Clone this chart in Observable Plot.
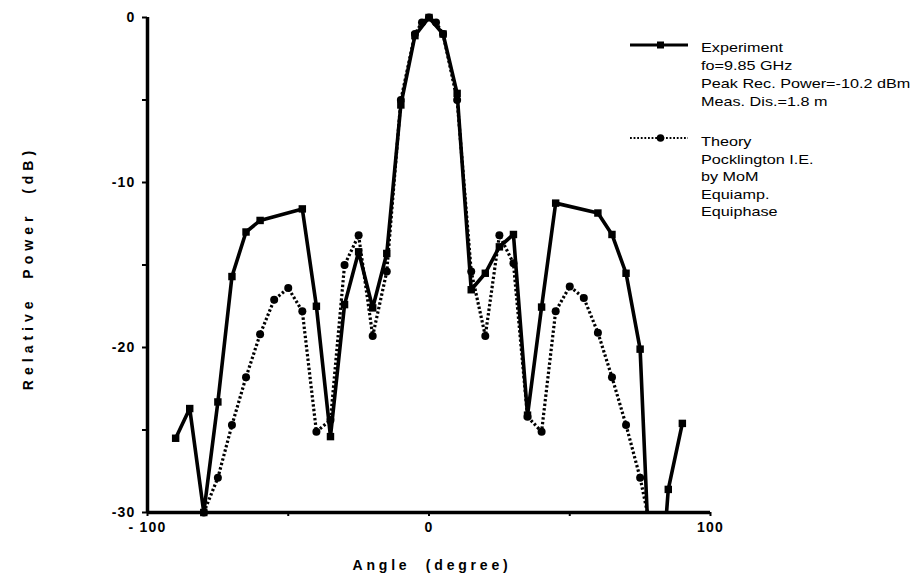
<!DOCTYPE html>
<html>
<head>
<meta charset="utf-8">
<script src="https://cdn.jsdelivr.net/npm/d3@7"></script>
<script src="https://cdn.jsdelivr.net/npm/@observablehq/plot@0.6"></script>
<style>
  html, body { margin: 0; padding: 0; background: white; }
  #chart { width: 912px; height: 574px; }
</style>
</head>
<body>
<div id="chart"></div>
<script>
// ---- data ----
const expAngle = [-90,-85,-80,-75,-70,-65,-60,-45,-40,-35,-30,-25,-20,-15,-10,-5,0,5,10,15,20,25,30,35,40,45,60,65,70,75,80,85,90];
const expPower = [-25.5,-23.7,-30,-23.3,-15.7,-13.0,-12.3,-11.6,-17.5,-25.4,-17.4,-14.2,-17.6,-14.3,-5.3,-1.1,0,-1.0,-4.6,-16.5,-15.5,-13.9,-13.15,-24.1,-17.55,-11.25,-11.85,-13.15,-15.5,-20.1,-40,-28.6,-24.6];

const thAngle = [-80,-75,-70,-65,-60,-55,-50,-45,-40,-35,-30,-25,-20,-15,-10,-5,-2.5,0,2.5,5,10,15,20,25,30,35,40,45,50,55,60,65,70,75,80];
const thPower = [-30,-27.9,-24.7,-21.8,-19.2,-17.1,-16.4,-17.8,-25.1,-24.4,-15.0,-13.2,-19.3,-15.4,-5.0,-1.0,-0.3,0,-0.3,-1.0,-5.0,-15.4,-19.3,-13.2,-14.9,-24.2,-25.1,-17.8,-16.3,-17.0,-19.1,-21.8,-24.7,-27.9,-32];

const xTicks = [-100,-50,0,50,100];
const xTickLabels = {"-100": "- 100", "0": "0", "100": "100"};
const yTicks = [0,-5,-10,-15,-20,-25,-30];
const yTickLabels = {"0": "0", "-10": "-10", "-20": "-20", "-30": "-30"};

const xLabel = "Angle  (degree)";
const yLabel = "Relative  Power  (dB)";
const legendExp = ["Experiment", "fo=9.85 GHz", "Peak Rec. Power=-10.2 dBm", "Meas. Dis.=1.8 m"];
const legendTheory = ["Theory", "Pocklington I.E.", "by MoM", "Equiamp.", "Equiphase"];

// ---- build ----
const expData = expAngle.map((a, i) => ({angle: a, power: expPower[i]}));
const thData = thAngle.map((a, i) => ({angle: a, power: thPower[i]}));
const inRange = d => d.power >= -30 && d.power <= 0;

const font = "'Liberation Sans', Arial, Helvetica, sans-serif";

const svg = Plot.plot({
  width: 912,
  height: 574,
  marginLeft: 147,
  marginRight: 202,
  marginTop: 17,
  marginBottom: 62,
  style: {fontFamily: font, fontSize: "14px", background: "white", color: "black"},
  x: {domain: [-100, 100]},
  y: {domain: [-30, 0]},
  marks: [
    Plot.axisY({ticks: yTicks, tickFormat: d => yTickLabels[String(d)] ?? "", tickSize: 5, tickPadding: 7, label: null, strokeWidth: 2, fontWeight: "bold"}),
    Plot.axisX({ticks: xTicks, tickFormat: d => xTickLabels[String(d)] ?? "", tickSize: 4, tickPadding: 6, label: null, strokeWidth: 2, fontWeight: "bold"}),
    Plot.ruleX([-100], {stroke: "black", strokeWidth: 3.5}),
    Plot.ruleY([-30], {stroke: "black", strokeWidth: 3.5}),
    Plot.line(thData, {x: "angle", y: "power", stroke: "black", strokeWidth: 3.2, strokeDasharray: "2.4,2.2", strokeLinecap: "butt", clip: true}),
    Plot.line(expData, {x: "angle", y: "power", stroke: "black", strokeWidth: 3.6, clip: true}),
    Plot.dot(thData.filter(inRange), {x: "angle", y: "power", r: 4, fill: "black", stroke: "none"}),
    Plot.dot(expData.filter(inRange), {x: "angle", y: "power", symbol: "square", r: 4.2, fill: "black", stroke: "none"})
  ]
});

document.getElementById("chart").appendChild(svg);

const s = d3.select(svg);
s.selectAll("text").style("letter-spacing", "1.2px");
const lineGroups = s.selectAll("g[aria-label='line']").nodes();
if (lineGroups[0]) d3.select(lineGroups[0]).attr("stroke-width", 3.2).selectAll("path").attr("stroke-width", 3.2);
if (lineGroups[1]) d3.select(lineGroups[1]).attr("stroke-width", 3.6).selectAll("path").attr("stroke-width", 3.6);

// axis titles
s.append("text")
  .attr("transform", "translate(33,268) rotate(-90)")
  .attr("text-anchor", "middle")
  .attr("font-family", font).attr("font-size", 14).attr("font-weight", "bold")
  .style("letter-spacing", "5px").style("white-space", "pre")
  .text(yLabel);
s.append("text")
  .attr("x", 432).attr("y", 570)
  .attr("text-anchor", "middle")
  .attr("font-family", font).attr("font-size", 14).attr("font-weight", "bold")
  .style("letter-spacing", "3.8px").style("white-space", "pre")
  .text(xLabel);

// legend
const lg = s.append("g").attr("font-family", font).attr("font-size", 12).attr("text-anchor", "start");
function legendBlock(lineY, lines, firstBaseline, step, dashed, square) {
  lg.append("line").attr("x1", 630).attr("x2", 688).attr("y1", lineY).attr("y2", lineY)
    .attr("stroke", "black").attr("stroke-width", dashed ? 2.2 : 2.8)
    .attr("stroke-dasharray", dashed ? "1.8,1.8" : null);
  if (square) {
    lg.append("rect").attr("x", 657).attr("y", lineY - 3.5).attr("width", 7).attr("height", 7).attr("fill", "black");
  } else {
    lg.append("circle").attr("cx", 660.5).attr("cy", lineY).attr("r", 3.8).attr("fill", "black");
  }
  const g = lg.append("g").attr("transform", "translate(701,0) scale(1.35,1)");
  lines.forEach((t, i) => {
    g.append("text").attr("x", 0).attr("y", firstBaseline + i * step).attr("text-anchor", "start").text(t);
  });
}
legendBlock(45, legendExp, 52, 18, false, true);
legendBlock(138, legendTheory, 146.5, 17.5, true, false);
</script>
</body>
</html>
